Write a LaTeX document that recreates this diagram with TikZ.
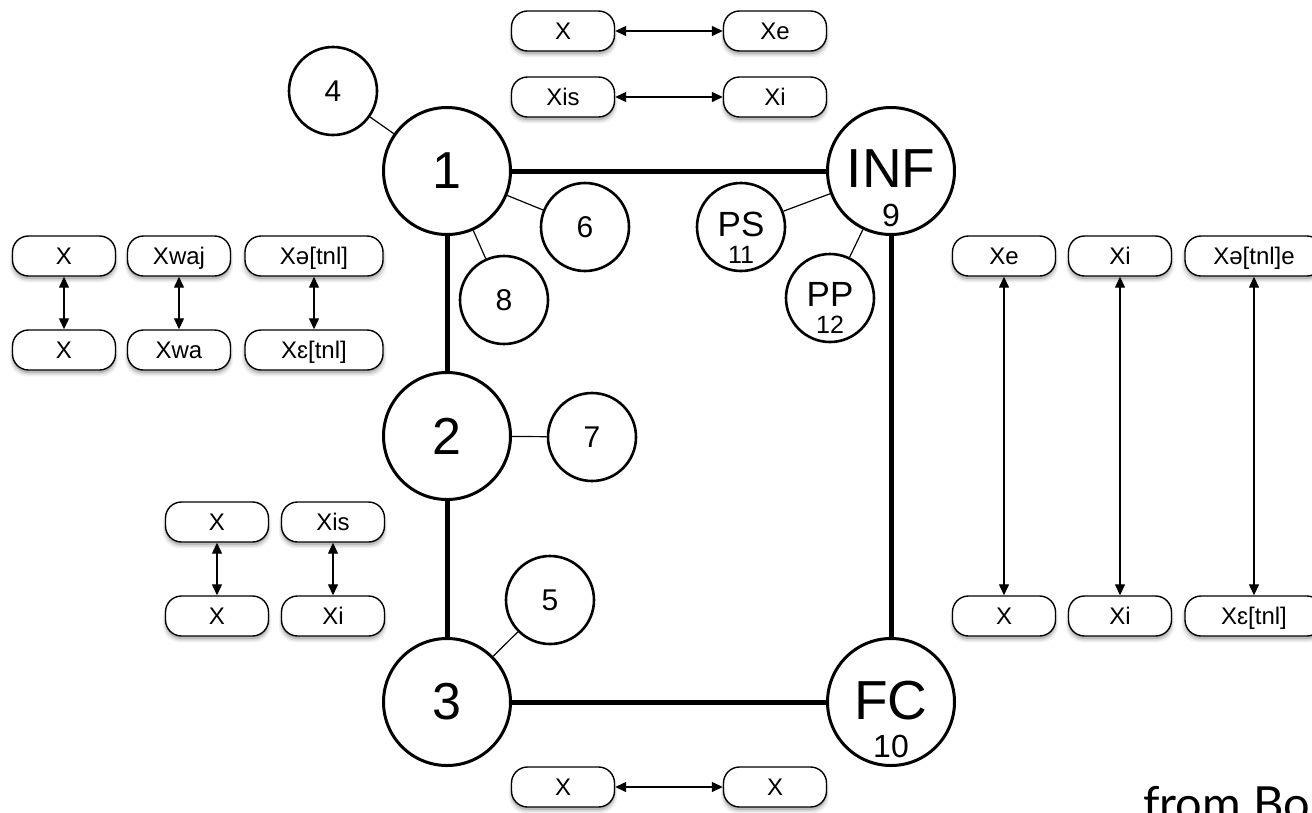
\documentclass[tikz,border=0pt]{standalone}
\usepackage{fontspec}
\setmainfont{Liberation Sans}
\newfontfamily\latofont{Lato}
\usetikzlibrary{arrows.meta,shadows}
\begin{document}
\begin{tikzpicture}[x=1pt,y=-1pt,
  big/.style={circle,draw,line width=3pt,minimum size=127pt,inner sep=0pt,font=\fontsize{52}{52}\selectfont},
  small/.style={circle,draw,line width=2.6pt,minimum size=88pt,inner sep=0pt,font=\fontsize{30}{30}\selectfont},
  bigname/.style={inner sep=0pt,font=\fontsize{55}{55}\selectfont},
  bignum/.style={inner sep=0pt,font=\fontsize{32}{32}\selectfont},
  smallname/.style={inner sep=0pt,font=\fontsize{35}{35}\selectfont},
  smallnum/.style={inner sep=0pt,font=\fontsize{25}{25}\selectfont},
  wordbox/.style={draw,line width=1.4pt,fill=white,rounded corners=16pt,minimum width=103pt,minimum height=40pt,
     inner sep=0pt,text height=17pt,text depth=0pt,font=\fontsize{24}{24}\selectfont,
     general shadow={shadow yshift=-5pt,shadow scale=1.05,fill=black,opacity=.06},
     general shadow={shadow yshift=-4pt,shadow scale=1.025,fill=black,opacity=.09},
     general shadow={shadow yshift=-3pt,fill=black,opacity=.14}},
  widebox/.style={wordbox,minimum width=138pt},
  thick line/.style={line width=5pt},
  thin line/.style={line width=1.2pt},
  dbl/.style={line width=1.3pt,{Triangle[length=11pt,width=10pt]}-{Triangle[length=11pt,width=10pt]}}
]
\useasboundingbox (0,0) rectangle (1312,812);
\fill[white] (0,0) rectangle (1312,812);

% big circles
\node[big] (n1) at (447,171) {1};
\node[big] (n2) at (447,436) {2};
\node[big] (n3) at (447,702) {3};
\node[big] (inf) at (891,171) {};
\node[bigname] (infA) at (891,169) {INF};
\node[bignum] (infB) at (891,215) {9};
\node[big] (fc) at (891,702) {};
\node[bigname] (fcA) at (891,701) {FC};
\node[bignum] (fcB) at (891,746) {10};

% small circles
\node[small] (n4) at (333,91) {4};
\node[small] (n6) at (585,227) {6};
\node[small] (n8) at (504,300) {8};
\node[small] (n7) at (592,437) {7};
\node[small] (n5) at (550,600) {5};
\node[small] (ps) at (741,227) {};
\node[smallname] (psA) at (741,224) {PS};
\node[smallnum] (psB) at (741,255) {11};
\node[small] (pp) at (830,298) {};
\node[smallname] (ppA) at (830,294) {PP};
\node[smallnum] (ppB) at (830,325) {12};

% frame
\draw[thick line] (n1) -- (inf);
\draw[thick line] (n1) -- (n2);
\draw[thick line] (n2) -- (n3);
\draw[thick line] (n3) -- (fc);
\draw[thick line] (inf) -- (fc);

% thin connectors
\draw[thin line] (n4) -- (n1);
\draw[thin line] (n6) -- (n1);
\draw[thin line] (n8) -- (n1);
\draw[thin line] (n7) -- (n2);
\draw[thin line] (n5) -- (n3);
\draw[thin line] (ps) -- (inf);
\draw[thin line] (pp) -- (inf);

% top boxes
\node[wordbox] (tX) at (563,31) {X};
\node[wordbox] (tXe) at (775,31) {Xe};
\node[wordbox] (tXis) at (563,97) {Xis};
\node[wordbox] (tXi) at (775,97) {Xi};
\draw[dbl] (tX) -- (tXe);
\draw[dbl] (tXis) -- (tXi);

% left boxes
\node[wordbox] (lA1) at (64,256) {X};
\node[wordbox] (lB1) at (179,256) {Xwaj};
\node[widebox] (lC1) at (314,256) {Xə[tnl]};
\node[wordbox] (lA2) at (64,350) {X};
\node[wordbox] (lB2) at (179,350) {Xwa};
\node[widebox] (lC2) at (314,350) {Xɛ[tnl]};
\draw[dbl] (lA1) -- (lA2);
\draw[dbl] (lB1) -- (lB2);
\draw[dbl] (lC1) -- (lC2);

% left lower boxes
\node[wordbox] (mA1) at (217,522) {X};
\node[wordbox] (mB1) at (333,522) {Xis};
\node[wordbox] (mA2) at (217,616) {X};
\node[wordbox] (mB2) at (333,616) {Xi};
\draw[dbl] (mA1) -- (mA2);
\draw[dbl] (mB1) -- (mB2);

% right boxes
\node[wordbox] (rA1) at (1004,256) {Xe};
\node[wordbox] (rB1) at (1120,256) {Xi};
\node[widebox] (rC1) at (1254,256) {Xə[tnl]e};
\node[wordbox] (rA2) at (1004,616) {X};
\node[wordbox] (rB2) at (1120,616) {Xi};
\node[widebox] (rC2) at (1254,616) {Xɛ[tnl]};
\draw[dbl] (rA1) -- (rA2);
\draw[dbl] (rB1) -- (rB2);
\draw[dbl] (rC1) -- (rC2);

% bottom boxes
\node[wordbox] (bX1) at (563,787) {X};
\node[wordbox] (bX2) at (775,787) {X};
\draw[dbl] (bX1) -- (bX2);

% caption
\node[anchor=base west,inner sep=0pt,font=\latofont\fontsize{47}{47}\selectfont] (cap) at (1143,820) {from Bo};
\end{tikzpicture}
\end{document}
